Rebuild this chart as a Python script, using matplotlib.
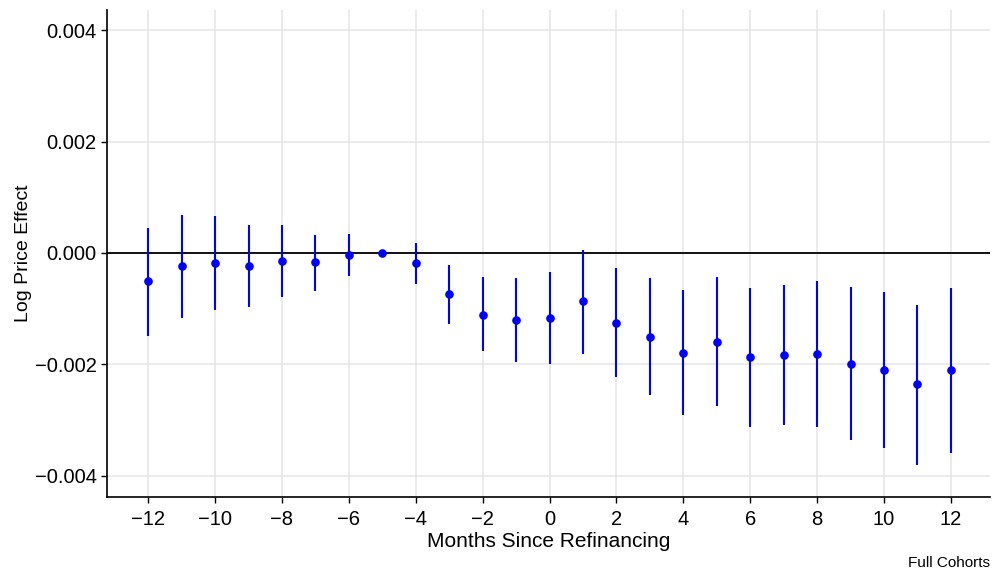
"""
Event-study plot: log price effect around refinancing month.
"""

import matplotlib
matplotlib.use("Agg")
import matplotlib.pyplot as plt


months = list(range(-12, 13))
effect = [-0.00050, -0.00023, -0.00018, -0.00023, -0.00014, -0.00016, -0.00004,
          0.00000, -0.00018, -0.00074, -0.00111, -0.00120, -0.00117, -0.00086,
          -0.00126, -0.00151, -0.00179, -0.00160, -0.00187, -0.00183, -0.00181,
          -0.00199, -0.00210, -0.00235, -0.00210]
ci_low = [-0.00149, -0.00117, -0.00102, -0.00097, -0.00079, -0.00068, -0.00041,
          0.00000, -0.00056, -0.00127, -0.00176, -0.00196, -0.00199, -0.00181,
          -0.00222, -0.00255, -0.00290, -0.00274, -0.00312, -0.00309, -0.00312,
          -0.00335, -0.00350, -0.00380, -0.00359]
ci_high = [0.00045, 0.00068, 0.00066, 0.00050, 0.00050, 0.00032, 0.00034,
           0.00000, 0.00018, -0.00022, -0.00043, -0.00045, -0.00034, 0.00005,
           -0.00027, -0.00045, -0.00066, -0.00043, -0.00063, -0.00057, -0.00050,
           -0.00061, -0.00070, -0.00093, -0.00063]

x_ticks = list(range(-12, 13, 2))
y_ticks = [-0.004, -0.002, 0.0, 0.002, 0.004]
y_labels = ["\u22120.004", "\u22120.002", "0.000", "0.002", "0.004"]
x_labels = [("\u2212" + str(-t)) if t < 0 else str(t) for t in x_ticks]


def main():
    plt.rcParams["font.family"] = ["Liberation Sans", "DejaVu Sans"]

    fig = plt.figure(figsize=(9.92, 5.73), dpi=100)
    ax = fig.add_axes([0.1079, 0.1326, 0.8901, 0.8499])

    ax.vlines(months, ci_low, ci_high, color="#0000ff", linewidth=1.5, zorder=3)
    ax.plot(months, effect, "o", color="#0000ff", markersize=5.2, zorder=4)
    ax.axhline(0, color="black", linewidth=1.3, zorder=2)

    ax.set_xlim(-13.23, 13.17)
    ax.set_ylim(-0.00438, 0.00436)
    ax.set_xticks(x_ticks)
    ax.set_xticklabels(x_labels)
    ax.set_yticks(y_ticks)
    ax.set_yticklabels(y_labels)

    ax.grid(True, color="#e5e5e5", linewidth=1.1, zorder=0)
    ax.set_axisbelow(True)
    for side in ["top", "right"]:
        ax.spines[side].set_visible(False)
    for side in ["left", "bottom"]:
        ax.spines[side].set_linewidth(1.2)
    ax.tick_params(axis="both", length=4.5, width=1.0, labelsize=14.5,
                   colors="black")
    ax.tick_params(axis="x", pad=5)
    ax.tick_params(axis="y", pad=3)

    ax.set_xlabel("Months Since Refinancing", fontsize=15, labelpad=2)
    ax.set_ylabel("Log Price Effect", fontsize=14, labelpad=2)
    fig.text(0.998, 0.006, "Full Cohorts", ha="right", va="bottom", fontsize=11)

    fig.savefig("out.png", dpi=100)
    plt.close(fig)


if __name__ == "__main__":
    main()
